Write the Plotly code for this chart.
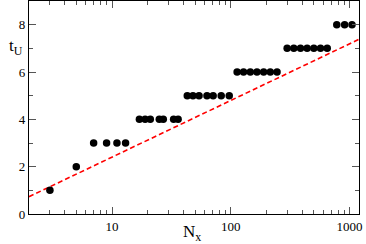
import numpy as np
import plotly.graph_objects as go

# Data
nx_values = [3, 5, 7, 9, 11, 13,
             17, 19, 21, 25, 27, 33, 36,
             43, 48, 54, 63, 71, 83, 97,
             113, 128, 146, 166, 189, 215, 245,
             298, 339, 386, 439, 500, 569, 648,
             780, 908, 1048]
tu_values = [1, 2, 3, 3, 3, 3,
             4, 4, 4, 4, 4, 4, 4,
             5, 5, 5, 5, 5, 5, 5,
             6, 6, 6, 6, 6, 6, 6,
             7, 7, 7, 7, 7, 7, 7,
             8, 8, 8]

# Fitted line: t = a + b*log10(N)
fit_a = 0.01
fit_b = 2.394
x_min, x_max = 2, 1200
line_x = np.logspace(np.log10(x_min), np.log10(x_max), 50)
line_y = fit_a + fit_b * np.log10(line_x)

x_tickvals = [10, 100, 1000]
x_ticktext = ["10", "100", "1000"]
x_minor = [m * 10 ** k for k in range(0, 4) for m in range(2, 10) if x_min < m * 10 ** k < x_max]
y_tickvals = [0, 2, 4, 6, 8]

fig = go.Figure()
fig.add_trace(go.Scatter(x=line_x, y=line_y, mode="lines",
                         line=dict(color="#ff0000", width=1.6, dash="5px,3px"),
                         showlegend=False, hoverinfo="skip"))
fig.add_trace(go.Scatter(x=nx_values, y=tu_values, mode="markers",
                         marker=dict(color="black", size=7.5),
                         showlegend=False))

font = dict(family="Liberation Serif, Times New Roman, serif", size=13, color="black")
fig.update_layout(
    width=366, height=244,
    margin=dict(l=29, r=7, t=1, b=30, autoexpand=False),
    paper_bgcolor="white", plot_bgcolor="white",
    font=font,
    xaxis=dict(type="log", range=[np.log10(x_min), np.log10(x_max)],
               tickvals=x_tickvals, ticktext=x_ticktext, automargin=False,
               ticks="inside", ticklen=7, tickwidth=1, tickcolor="#555",
               showline=True, linecolor="black", linewidth=1.2, mirror="ticks",
               showgrid=False, zeroline=False,
               minor=dict(tickvals=x_minor, ticks="inside", ticklen=4, tickcolor="#555", showgrid=False),
               tickfont=font),
    yaxis=dict(range=[0, 9], tickvals=y_tickvals, automargin=False,
               ticks="inside", ticklen=7, tickwidth=1, tickcolor="#555",
               showline=True, linecolor="black", linewidth=1.2, mirror="ticks",
               showgrid=False, zeroline=False,
               minor=dict(dtick=1, ticks="inside", ticklen=4, tickcolor="#555", showgrid=False),
               tickfont=font),
    annotations=[
        dict(text="t<sub>U</sub>", xref="paper", yref="paper", x=-0.068, y=0.845,
             showarrow=False, font=dict(family=font["family"], size=17, color="black")),
        dict(text="N<sub>x</sub>", xref="paper", yref="paper", x=0.494, y=-0.09,
             yanchor="middle", showarrow=False,
             font=dict(family=font["family"], size=17, color="black")),
    ],
)

fig.write_html("out.html", config={"displayModeBar": False},
               post_script="document.body.style.margin='0';")
